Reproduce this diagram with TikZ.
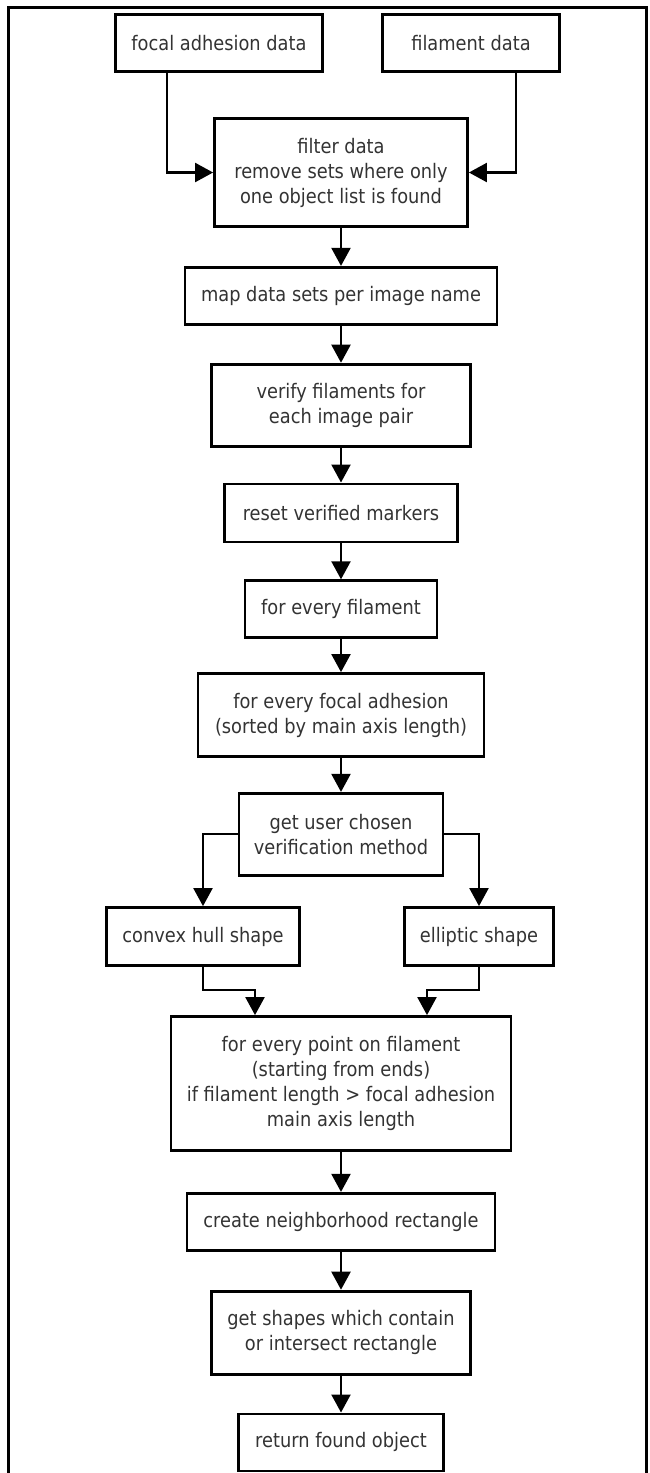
\documentclass[tikz,border=0pt]{standalone}
\usepackage{fontspec}
\setmainfont{DejaVu Sans}[FakeStretch=0.89]
\usetikzlibrary{arrows.meta, positioning}

\begin{document}
\begin{tikzpicture}[
    x=1pt, y=1pt,
    box/.style={draw, line width=2.8pt, align=center, text=black!80, inner sep=0pt, font=\fontsize{20}{25}\selectfont},
    arrow/.style={->, >={Triangle[length=18pt, width=19pt]}, line width=2.2pt},
    frame/.style={draw, line width=3pt}
]
    \useasboundingbox (0,0) rectangle (650,-1473);
    \draw[frame] (8,-7) rectangle (646,-1490);

    \node[box, minimum width=207pt, minimum height=57pt] (fa) at (219,-43) {focal adhesion data};
    \node[box, minimum width=177pt, minimum height=57pt] (fil) at (471,-43) {filament data};
    \node[box, minimum width=253pt, minimum height=108pt] (filt) at (341,-172.5) {filter data\\remove sets where only\\one object list is found};
    \node[box, minimum width=312pt, minimum height=57pt, below=38pt of filt] (map) {map data sets per image name};
    \node[box, minimum width=259pt, minimum height=82pt, below=37pt of map] (verify) {verify filaments for\\each image pair};
    \node[box, minimum width=233pt, minimum height=58pt, below=35pt of verify] (reset) {reset verified markers};
    \node[box, minimum width=192pt, minimum height=57pt, below=36pt of reset] (everyfil) {for every filament};
    \node[box, minimum width=286pt, minimum height=83pt, below=33pt of everyfil] (everyfa) {for every focal adhesion\\(sorted by main axis length)};
    \node[box, minimum width=204pt, minimum height=82pt, below=34pt of everyfa] (method) {get user chosen\\verification method};

    \node[box, minimum width=193pt, minimum height=58pt] (hull) at (203,-936.5) {convex hull shape};
    \node[box, minimum width=149pt, minimum height=58pt] (ellip) at (479,-936.5) {elliptic shape};

    \node[box, minimum width=340pt, minimum height=134pt] (points) at (341,-1083.5) {for every point on filament\\(starting from ends)\\if filament length > focal adhesion\\main axis length};
    \node[box, minimum width=308pt, minimum height=57pt, below=40pt of points] (rect) {create neighborhood rectangle};
    \node[box, minimum width=259pt, minimum height=83pt, below=38pt of rect] (shapes) {get shapes which contain\\or intersect rectangle};
    \node[box, minimum width=205pt, minimum height=57pt, below=37pt of shapes] (result) {return found object};

    \draw[arrow] ([xshift=-52pt]fa.south) |- (filt.west);
    \draw[arrow] ([xshift=45pt]fil.south) |- (filt.east);
    \draw[arrow] (filt.south) -- (map.north);
    \draw[arrow] (map.south) -- (verify.north);
    \draw[arrow] (verify.south) -- (reset.north);
    \draw[arrow] (reset.south) -- (everyfil.north);
    \draw[arrow] (everyfil.south) -- (everyfa.north);
    \draw[arrow] (everyfa.south) -- (method.north);

    \draw[arrow] (method.west) -| (hull.north);
    \draw[arrow] (method.east) -| (ellip.north);
    \draw[arrow] (hull.south) -- ++(0,-23) -| ([xshift=-86pt]points.north);
    \draw[arrow] (ellip.south) -- ++(0,-23) -| ([xshift=86pt]points.north);

    \draw[arrow] (points.south) -- (rect.north);
    \draw[arrow] (rect.south) -- (shapes.north);
    \draw[arrow] (shapes.south) -- (result.north);
\end{tikzpicture}
\end{document}
